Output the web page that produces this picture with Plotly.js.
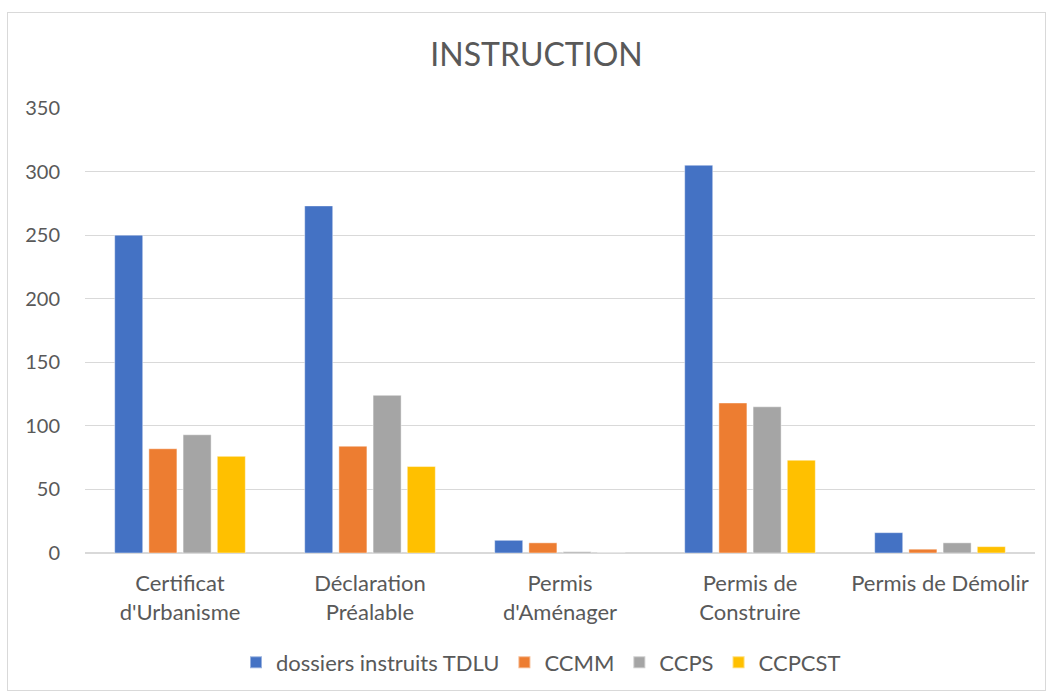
<!DOCTYPE html>
<html>
<head>
<meta charset="utf-8">
<script src="https://cdn.plot.ly/plotly-3.0.1.min.js"></script>
<style>
html,body{margin:0;padding:0;background:#fff;}
#wrap{position:relative;width:1052px;height:697px;}
#chart{position:absolute;left:0;top:0;width:1052px;height:697px;}
#frame{position:absolute;left:7px;top:12px;width:1037px;height:677px;border:1px solid #D9D9D9;pointer-events:none;}
</style>
</head>
<body>
<div id="wrap"><div id="chart"></div><div id="frame"></div></div>
<script>
const categories = ["Certificat<br>d'Urbanisme", "Déclaration<br>Préalable", "Permis<br>d'Aménager", "Permis de<br>Construire", "Permis de Démolir"];
const seriesNames = ["dossiers instruits TDLU", "CCMM", "CCPS", "CCPCST"];
const tdlu   = [250, 273, 10, 305, 16];
const ccmm   = [82, 84, 8, 118, 3];
const ccps   = [93, 124, 1, 115, 8];
const ccpcst = [76, 68, 0, 73, 5];
const colors = ["#4472C4", "#ED7D31", "#A5A5A5", "#FFC000"];
const yTicks = [0, 50, 100, 150, 200, 250, 300, 350];

const values = [tdlu, ccmm, ccps, ccpcst];
const traces = values.map((v, i) => ({
  type: 'bar',
  name: seriesNames[i],
  x: categories,
  y: v,
  marker: {color: colors[i], line: {color: 'rgba(255,255,255,0.45)', width: 1}},
  hoverinfo: 'x+y+name'
}));

const font = "Lato, 'Open Sans', sans-serif";
const layout = {
  width: 1052, height: 697,
  margin: {l: 85, r: 17, t: 108, b: 143.5},
  paper_bgcolor: '#fff', plot_bgcolor: '#fff',
  title: {text: 'INSTRUCTION', font: {family: font, size: 32, color: '#595959'}, x: 0.51, xanchor: 'center', y: 0.922, yanchor: 'middle'},
  barmode: 'group',
  bargap: 0.28,
  bargroupgap: 0.18,
  font: {family: font, color: '#595959'},
  xaxis: {
    type: 'category',
    tickfont: {family: font, size: 22, color: '#595959'},
    showgrid: false, showline: false, ticks: '', zeroline: false,
    ticklabelstandoff: 15,
    automargin: false
  },
  yaxis: {
    range: [0, 350],
    tickvals: yTicks,
    ticktext: yTicks.map(String),
    tickfont: {family: font, size: 20, color: '#595959'},
    showgrid: true, gridcolor: '#D9D9D9', gridwidth: 1.3,
    zeroline: true, zerolinecolor: '#D9D9D9', zerolinewidth: 1.5,
    showline: false, ticks: '', ticklen: 0,
    ticklabelstandoff: 24,
    automargin: false
  },
  showlegend: true,
  legend: {
    orientation: 'h', x: 0.48, xanchor: 'center', y: -0.246, yanchor: 'middle',
    font: {family: font, size: 22, color: '#595959'},
    itemwidth: 30, itemsizing: 'constant', traceorder: 'normal'
  }
};

Plotly.newPlot('chart', traces, layout, {displayModeBar: false, staticPlot: false});
</script>
</body>
</html>
